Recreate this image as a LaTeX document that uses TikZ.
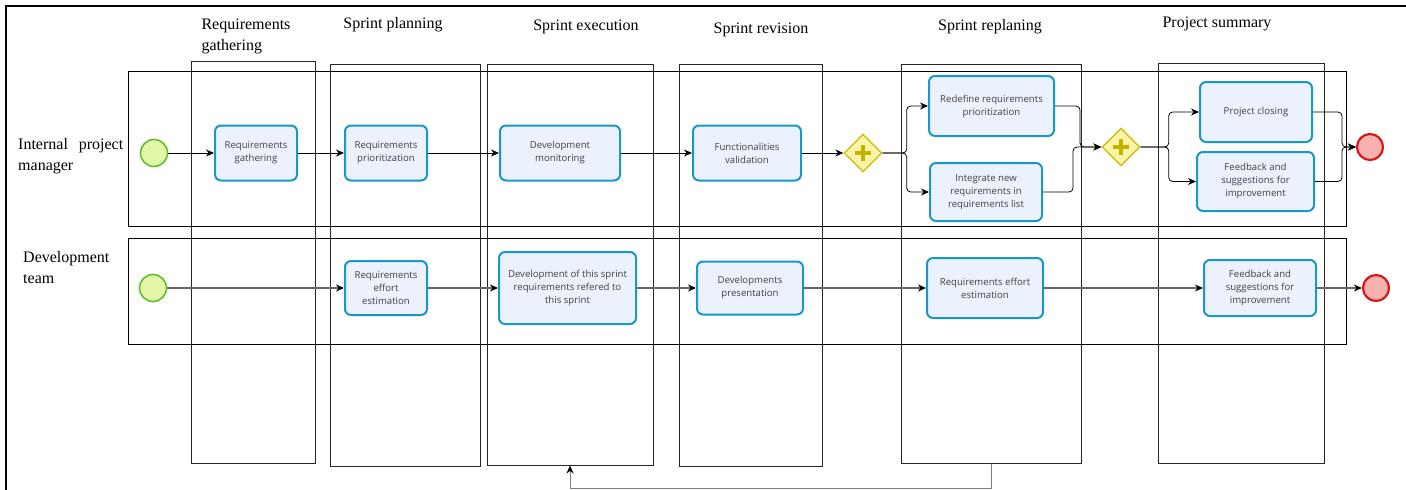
\documentclass[tikz,border=0pt]{standalone}
\usepackage{fontspec}
\setmainfont{Liberation Serif}
\newfontfamily\taskfont{Open Sans}
\usepackage{tikz}
\usetikzlibrary{arrows.meta,positioning,shapes.geometric}
\definecolor{cTaskFill} {RGB}{236,242,253}
\definecolor{cTaskDraw} {RGB}{24,152,200}
\definecolor{cStartFill}{RGB}{226,247,168}
\definecolor{cStartDraw}{RGB}{98,190,44}
\definecolor{cEndFill}  {RGB}{248,176,176}
\definecolor{cEndDraw}  {RGB}{214,26,26}
\definecolor{cGateFill} {RGB}{250,244,168}
\definecolor{cGateDraw} {RGB}{208,192,20}
\definecolor{cGatePlus} {RGB}{196,178,0}
\tikzset{
  >={Stealth[length=8pt,width=7pt,black]},
  lane/.style={draw,line width=1pt,inner sep=0pt},
  phase/.style={draw,black!85,line width=1pt,inner sep=0pt},
  head/.style={font=\fontsize{16}{21}\selectfont},
  who/.style={font=\fontsize{16}{21}\selectfont,anchor=west,inner sep=0pt},
  task/.style={draw=cTaskDraw,fill=cTaskFill,line width=2pt,rounded corners=6pt,
               align=center,inner sep=0pt,text=black!75,
               font=\taskfont\fontsize{9.6}{13}\selectfont},
  startev/.style={circle,draw=cStartDraw,fill=cStartFill,line width=1.6pt,
                  minimum size=27pt,inner sep=0pt},
  endev/.style={circle,draw=cEndDraw,fill=cEndFill,line width=2.2pt,
                minimum size=26pt,inner sep=0pt},
  gateway/.style={diamond,draw=cGateDraw,fill=cGateFill,line width=1.4pt,
                  minimum size=38pt,inner sep=0pt,
                  path picture={\draw[cGatePlus,line width=4.5pt]
                    ([xshift=-8pt]path picture bounding box.center) -- ++(16pt,0pt)
                    ([yshift=-8pt]path picture bounding box.center) -- ++(0pt,16pt);}},
  flow/.style={->,line width=0.8pt},
  devflow/.style={->,black!60,line width=1.2pt},
  loopback/.style={->,black!50,line width=1pt},
}
\begin{document}
\begin{tikzpicture}[x=1pt,y=-1pt]
  \useasboundingbox (0,0) rectangle (1406,490);
  % frame
  \draw[line width=2.4pt] (6,494) -- (6,6) -- (1410,6);

  % lanes
  \node[lane,minimum width=1218pt,minimum height=155pt] (pm)  at (737,148.5) {};
  \node[lane,minimum width=1218pt,minimum height=106pt] (dev) at (737,291) {};
  \node[who,text width=105pt,align=justify] (pmLabel) at (18,156) {Internal project manager};
  \node[who,align=left] (devLabel) at (23,268) {Development\\team};

  % phases
  \node[phase,minimum width=124pt,minimum height=402pt] (c1) at (253,262)   {};
  \node[phase,minimum width=150pt,minimum height=402pt] (c2) at (405,265)   {};
  \node[phase,minimum width=166pt,minimum height=401pt] (c3) at (570,264.5) {};
  \node[phase,minimum width=143pt,minimum height=402pt] (c4) at (750.5,265) {};
  \node[phase,minimum width=180pt,minimum height=399pt] (c5) at (991,263.5) {};
  \node[phase,minimum width=166pt,minimum height=400pt] (c6) at (1241,263)  {};
  \node[head,align=left] (h1) at (246,36) {Requirements\\gathering};
  \node[head] (h2) at (393,25)  {Sprint planning};
  \node[head] (h3) at (586,27)  {Sprint execution};
  \node[head] (h4) at (761,30)  {Sprint revision};
  \node[head] (h5) at (990,27)  {Sprint replaning};
  \node[head] (h6) at (1217,24) {Project summary};

  % internal project manager
  \node[startev] (s1) at (154,153) {};
  \node[task,minimum width=82pt,minimum height=55pt]  (gath)  at (256,153)    {Requirements\\gathering};
  \node[task,minimum width=82pt,minimum height=55pt]  (prio)  at (386,153)    {Requirements\\prioritization};
  \node[task,minimum width=120pt,minimum height=55pt] (monit) at (560,153)    {Development\\monitoring};
  \node[task,minimum width=108pt,minimum height=55pt] (valid) at (747,153)    {Functionalities\\validation};
  \node[gateway] (g1) at (863,153) {};
  \node[task,minimum width=125pt,minimum height=60pt] (redef) at (991.5,106)  {Redefine requirements\\prioritization};
  \node[task,minimum width=112pt,minimum height=58pt] (integ) at (986,192)    {Integrate new\\requirements in\\requirements list};
  \node[gateway] (g2) at (1121,147) {};
  \node[task,minimum width=112pt,minimum height=60pt] (close) at (1256,112)   {Project closing};
  \node[task,minimum width=117pt,minimum height=59pt] (fbpm)  at (1255.5,181.5) {Feedback and\\suggestions for\\improvement};
  \node[endev] (e1) at (1370,147) {};

  % development team
  \node[startev] (s2) at (153,288) {};
  \node[task,minimum width=82pt,minimum height=54pt]  (effort)  at (386,288)   {Requirements\\effort\\estimation};
  \node[task,minimum width=137pt,minimum height=72pt] (devel)   at (567.5,288) {Development of this sprint\\requirements refered to\\this sprint};
  \node[task,minimum width=106pt,minimum height=53pt] (present) at (750,288)   {Developments\\presentation};
  \node[task,minimum width=116pt,minimum height=60pt] (reeff)   at (985,288)   {Requirements effort\\estimation};
  \node[task,minimum width=112pt,minimum height=56pt] (fbdev)   at (1260,288)  {Feedback and\\suggestions for\\improvement};
  \node[endev] (e2) at (1376,288) {};

  \draw[flow] (s1) -- (gath);
  \draw[flow] (gath) -- (prio);
  \draw[flow] (prio) -- (monit);
  \draw[flow] (monit) -- (valid);
  \draw[flow] (valid) -- (g1);
  \draw[flow,rounded corners=4pt] (g1.east) -- ++(24,0) |- (redef.west);
  \draw[flow,rounded corners=4pt] (g1.east) -- ++(24,0) |- (integ.west);
  \draw[flow,rounded corners=4pt] (redef.east) -- ++(25,0) |- (g2.west);
  \draw[flow,rounded corners=4pt] (integ.east) -- ++(30,0) |- (g2.west);
  \draw[flow,rounded corners=4pt] (g2.east) -- ++(28,0) |- (close.west);
  \draw[flow,rounded corners=4pt] (g2.east) -- ++(28,0) |- (fbpm.west);
  \draw[flow,rounded corners=4pt] (close.east) -- ++(29,0) |- (e1.west);
  \draw[flow,rounded corners=4pt] (fbpm.east) -- ++(27,0) |- (e1.west);

  \draw[devflow] (s2) -- (effort);
  \draw[devflow] (effort) -- (devel);
  \draw[devflow] (devel) -- (present);
  \draw[devflow] (present) -- (reeff);
  \draw[devflow] (reeff) -- (fbdev);
  \draw[devflow] (fbdev) -- (e2);

  % back to execution
  \draw[loopback] (c5.south) -- ++(0,25) -| (c3.south);
\end{tikzpicture}
\end{document}
